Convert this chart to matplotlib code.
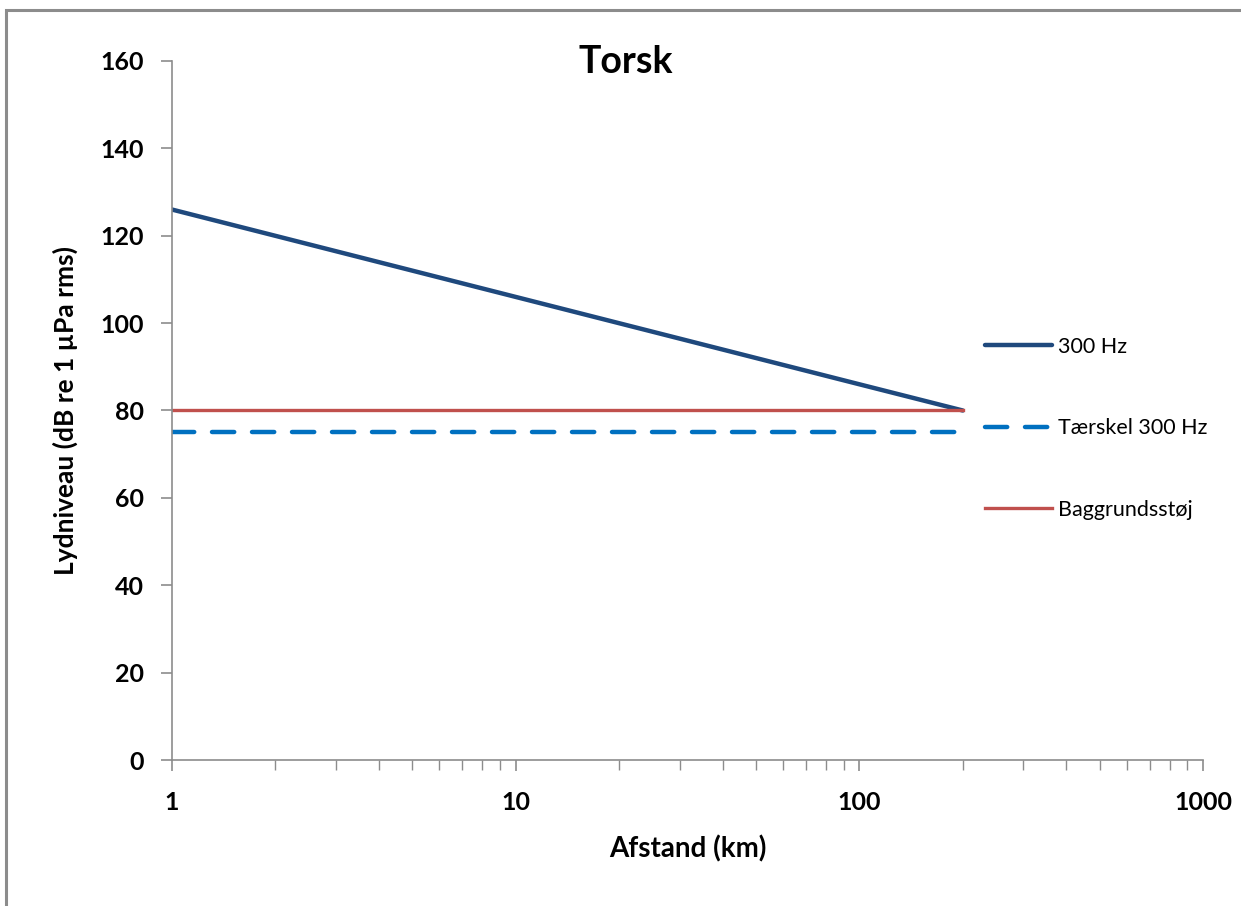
import matplotlib
matplotlib.use("Agg")
import matplotlib.pyplot as plt
from matplotlib.patches import Rectangle
from matplotlib.ticker import LogLocator, FixedLocator, NullFormatter

# data
afstand = [1, 10, 100, 200]
lyd_300hz = [126, 106, 86, 80]
taerskel_x = [1, 200]
taerskel = [75, 75]
baggrund_x = [1, 200]
baggrund = [80, 80]

x_ticks = [1, 10, 100, 1000]
x_labels = ["1", "10", "100", "1000"]
y_ticks = [0, 20, 40, 60, 80, 100, 120, 140, 160]

plt.rcParams['font.family'] = ['Lato', 'DejaVu Sans']

fig = plt.figure(figsize=(12.41, 9.06), dpi=100)
# outer chart border (only top and left visible in the reference)
fig.patches.append(Rectangle((6 / 1241, -0.1), 1.2, 1 - 10 / 906 + 0.1,
                             transform=fig.transFigure, fill=False,
                             edgecolor='#8c8c8c', linewidth=2.2))

ax = fig.add_axes([172 / 1241, 1 - 760 / 906, (1203 - 172) / 1241, (760 - 61) / 906])

ax.plot(afstand, lyd_300hz, color='#1F497D', linewidth=3.2, label='300 Hz',
        solid_capstyle='round')
ax.plot(taerskel_x, taerskel, color='#0070C0', linewidth=3.2, linestyle=(0, (5, 4)),
        label='Tærskel 300 Hz', dash_capstyle='round')
ax.plot(baggrund_x, baggrund, color='#C0504D', linewidth=2.4, label='Baggrundsstøj')

ax.set_xscale('log')
ax.set_xlim(1, 1000)
ax.set_ylim(0, 160)
ax.xaxis.set_major_locator(FixedLocator(x_ticks))
ax.set_xticklabels(x_labels)
ax.xaxis.set_minor_locator(LogLocator(base=10, subs=range(2, 10)))
ax.xaxis.set_minor_formatter(NullFormatter())
ax.set_yticks(y_ticks)

for s in ['top', 'right']:
    ax.spines[s].set_visible(False)
for s in ['left', 'bottom']:
    ax.spines[s].set_color('#8c8c8c')
    ax.spines[s].set_linewidth(1.2)

ax.tick_params(axis='both', which='major', direction='out', color='#8c8c8c',
               width=1.2, labelsize=18)
ax.tick_params(axis='x', which='major', length=8, pad=14)
ax.tick_params(axis='x', which='minor', length=7, width=1.0, color='#8c8c8c')
ax.tick_params(axis='y', which='major', length=8, pad=12)
for lab in ax.get_xticklabels() + ax.get_yticklabels():
    lab.set_fontweight('bold')

ax.text(0.44, 0.998, 'Torsk', transform=ax.transAxes, fontsize=27,
        fontweight='bold', ha='center', va='center')
ax.set_xlabel('Afstand (km)', fontsize=20, fontweight='bold', labelpad=16)
ax.set_ylabel('Lydniveau (dB re 1 µPa rms)', fontsize=19, fontweight='bold', labelpad=16)

ax.legend(loc='upper left', bbox_to_anchor=(0.77, 0.633), frameon=False,
          fontsize=15.5, handlelength=3.1, handletextpad=0.3, labelspacing=2.85)

fig.savefig('out.png', dpi=100)
